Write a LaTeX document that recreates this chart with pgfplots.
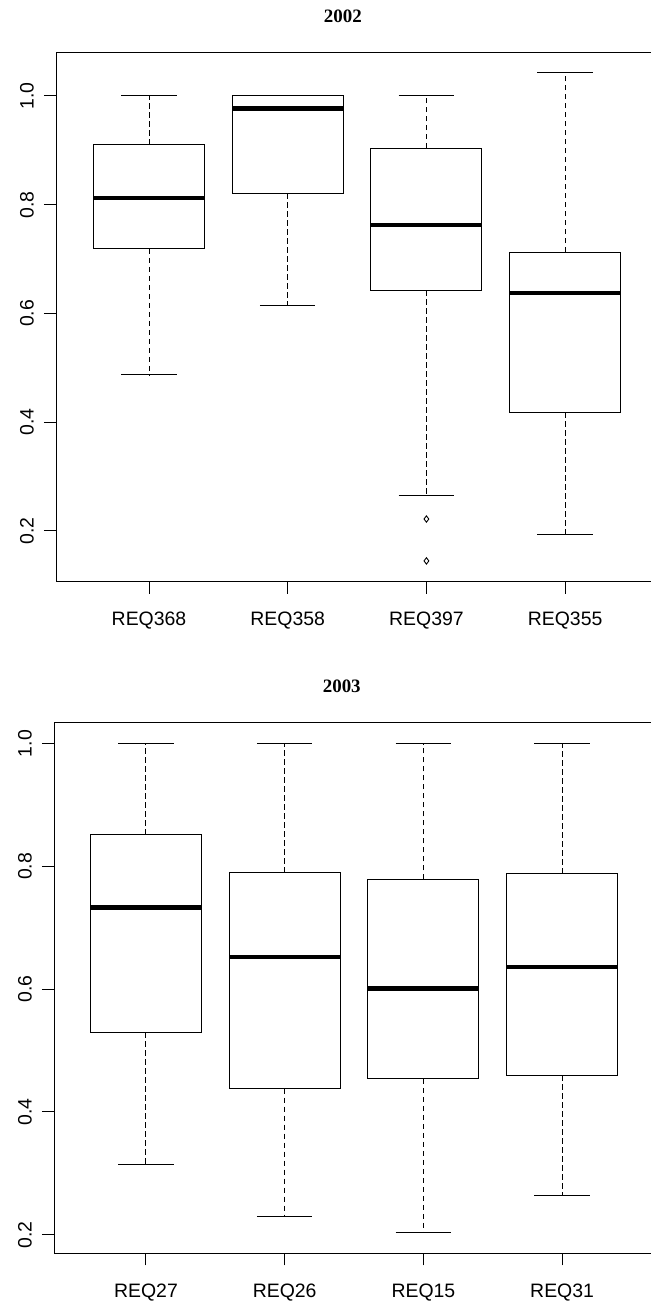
\documentclass[border=0pt]{standalone}
\usepackage{fontspec}
\setmainfont{Liberation Sans}
\newfontfamily\titlefont{Liberation Serif}
\usepackage{pgfplots}
\pgfplotsset{compat=1.18}
\usepgfplotslibrary{statistics}
\begin{document}
\begin{tikzpicture}
\useasboundingbox (0bp,0bp) rectangle (651bp,1301bp);
\pgfplotsset{
  rbox/.style={
    scale only axis,
    axis line style={line width=1bp, black},
    tick style={line width=1bp, black},
    major tick length=12bp,
    tick align=outside,
    xtick pos=bottom, ytick pos=left,
    xtick={1,2,3,4},
    ytick={0.2,0.4,0.6,0.8,1.0},
    yticklabels={0.2,0.4,0.6,0.8,1.0},
    ticklabel style={font=\fontsize{19.5}{22}\selectfont, inner sep=0pt},
    yticklabel style={rotate=90, anchor=south},
    xticklabel style={anchor=north},
    yticklabel shift=10bp,
    xticklabel shift=18bp,
    title style={anchor=base, yshift=25bp, font=\titlefont\bfseries\fontsize{19}{22}\selectfont},
    boxplot/draw direction=y,
    boxplot/box extend=0.8,
    boxplot/whisker extend=0.4,
    boxplot/every box/.style={draw=black, line width=1bp, fill=white},
    boxplot/every median/.style={draw=black, line width=4.2bp},
    boxplot/draw/lower whisker/.code={%
      \draw[black, line width=1bp, dash pattern=on 5.5bp off 3.5bp]
        (boxplot cs:\pgfplotsboxplotvalue{lower quartile}) -- (boxplot cs:\pgfplotsboxplotvalue{lower whisker});
      \draw[black, line width=1bp]
        (boxplot whisker cs:\pgfplotsboxplotvalue{lower whisker},0) -- (boxplot whisker cs:\pgfplotsboxplotvalue{lower whisker},1);
    },
    boxplot/draw/upper whisker/.code={%
      \draw[black, line width=1bp, dash pattern=on 5.5bp off 3.5bp]
        (boxplot cs:\pgfplotsboxplotvalue{upper quartile}) -- (boxplot cs:\pgfplotsboxplotvalue{upper whisker});
      \draw[black, line width=1bp]
        (boxplot whisker cs:\pgfplotsboxplotvalue{upper whisker},0) -- (boxplot whisker cs:\pgfplotsboxplotvalue{upper whisker},1);
    },
  }
}
% ---------- 2002 ----------
\begin{axis}[rbox,
  at={(56bp,719bp)}, anchor=south west,
  width=595bp, height=529bp,
  xmin=0.3295, xmax=4.619, ymin=0.1062, ymax=1.0791,
  xticklabels={REQ368,REQ358,REQ397,REQ355},
  title={2002}, title style={at={(axis description cs:0.482,1)}},
]
\addplot[black, boxplot prepared={draw position=1,
  lower whisker=0.487, lower quartile=0.719, median=0.812,
  upper quartile=0.910, upper whisker=1.000}] coordinates {};
\addplot[black, boxplot prepared={draw position=2,
  lower whisker=0.614, lower quartile=0.821, median=0.977,
  upper quartile=1.000, upper whisker=1.000}] coordinates {};
\addplot[black, mark=diamond, mark size=3.2bp, mark options={line width=0.9bp, fill=none},
  boxplot prepared={draw position=3,
  lower whisker=0.265, lower quartile=0.643, median=0.763,
  upper quartile=0.904, upper whisker=1.000}] coordinates {(0,0.222) (0,0.145)};
\addplot[black, boxplot prepared={draw position=4,
  lower whisker=0.193, lower quartile=0.418, median=0.637,
  upper quartile=0.713, upper whisker=1.043}] coordinates {};
\end{axis}
% ---------- 2003 ----------
\begin{axis}[rbox,
  at={(54bp,47.7bp)}, anchor=south west,
  width=597bp, height=530.3bp,
  xmin=0.3367, xmax=4.641, ymin=0.1697, ymax=1.0337,
  xticklabels={REQ27,REQ26,REQ15,REQ31},
  title={2003}, title style={at={(axis description cs:0.482,1)}},
]
\addplot[black, boxplot prepared={draw position=1,
  lower whisker=0.315, lower quartile=0.530, median=0.733,
  upper quartile=0.852, upper whisker=1.000}] coordinates {};
\addplot[black, boxplot prepared={draw position=2,
  lower whisker=0.229, lower quartile=0.438, median=0.652,
  upper quartile=0.790, upper whisker=1.000}] coordinates {};
\addplot[black, boxplot prepared={draw position=3,
  lower whisker=0.204, lower quartile=0.454, median=0.601,
  upper quartile=0.779, upper whisker=1.000}] coordinates {};
\addplot[black, boxplot prepared={draw position=4,
  lower whisker=0.264, lower quartile=0.460, median=0.636,
  upper quartile=0.788, upper whisker=1.000}] coordinates {};
\end{axis}
\end{tikzpicture}
\end{document}
